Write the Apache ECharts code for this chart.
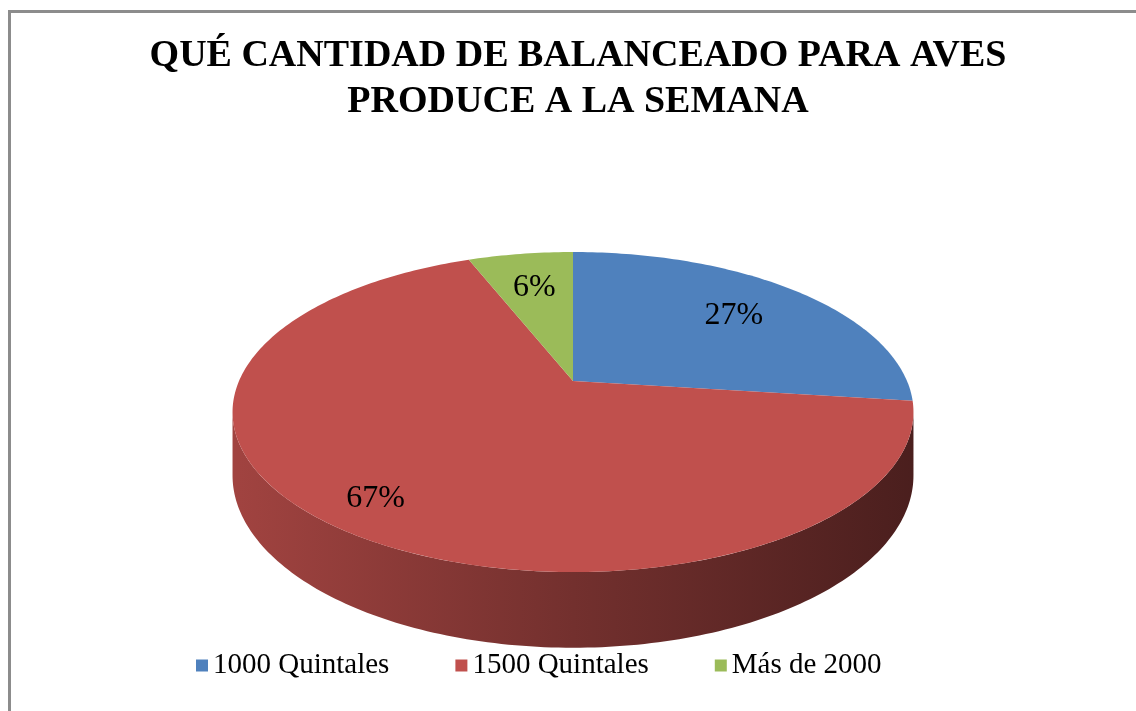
<!DOCTYPE html>
<html>
<head>
<meta charset="utf-8">
<script src="https://cdn.jsdelivr.net/npm/echarts@6/dist/echarts.min.js"></script>
<style>
  html, body { margin: 0; padding: 0; background: #fff; }
  #main { width: 1136px; height: 711px; }
</style>
</head>
<body>
<div id="main"></div>
<script>
var categories = ['1000 Quintales', '1500 Quintales', 'Más de 2000'];
var percentValues = [27, 67, 6];
var percentLabels = ['27%', '67%', '6%'];

var sliceColors = ['#4F81BD', '#C0504D', '#9BBB59'];
var labelRadius = [0.7, 0.84, 0.7];

// perspective of the disc (pixels)
var CX = 573, CY = 381;   // apex of the slices
var AX = 334, BY = 154;   // horizontal / vertical radius factors
var K = -0.194;           // perspective strength
var DEPTH = 61;           // thickness of the disc

var total = percentValues.reduce(function (a, b) { return a + b; }, 0);
var startAngles = [];
var acc = 0;
percentValues.forEach(function (v) { startAngles.push(acc); acc += v / total * 360; });

function proj(u, v, drop) {
    var w = 1 + K * v;
    return [CX + AX * u / w, CY + BY * v / w + (drop || 0) / w];
}
function rimPoint(deg, r, drop) {
    var a = deg * Math.PI / 180;
    return proj(r * Math.sin(a), -r * Math.cos(a), drop);
}
// darker shade of a hex colour, f = fraction kept
function shade(hex, f) {
    var c = echarts.color.parse(hex);
    return 'rgb(' + Math.round(c[0] * f) + ',' + Math.round(c[1] * f) + ',' + Math.round(c[2] * f) + ')';
}

// front part of the rim that faces the viewer
var frontFrom = 180 - Math.acos(-K) * 180 / Math.PI;
var frontTo = 360 - frontFrom;

function renderSlice(params, api) {
    var i = params.seriesIndex;
    var a0 = startAngles[i];
    var a1 = a0 + percentValues[i] / total * 360;
    var color = sliceColors[i];
    var children = [];

    // side wall
    var w0 = Math.max(a0, frontFrom), w1 = Math.min(a1, frontTo);
    if (w1 > w0) {
        var top = [], bottom = [];
        var steps = Math.max(2, Math.ceil(w1 - w0));
        for (var s = 0; s <= steps; s++) {
            var d = w0 + (w1 - w0) * s / steps;
            top.push(rimPoint(d, 1, 0));
            bottom.push(rimPoint(d, 1, DEPTH));
        }
        var left = proj(-1.02, 0.19)[0], right = proj(1.02, 0.19)[0];
        children.push({
            type: 'polygon',
            shape: { points: top.concat(bottom.reverse()) },
            style: {
                fill: new echarts.graphic.LinearGradient(left, 0, right, 0, [
                    { offset: 0, color: shade(color, 0.85) },
                    { offset: 0.5, color: shade(color, 0.6) },
                    { offset: 1, color: shade(color, 0.38) }
                ], true)
            }
        });
    }

    // top face
    var pts = [[CX, CY]];
    var n = Math.max(2, Math.ceil(a1 - a0));
    for (var k = 0; k <= n; k++) {
        pts.push(rimPoint(a0 + (a1 - a0) * k / n, 1, 0));
    }
    children.push({ type: 'polygon', shape: { points: pts }, style: { fill: color } });

    // label
    var lp = rimPoint((a0 + a1) / 2, labelRadius[i], 0);
    children.push({
        type: 'text',
        x: lp[0], y: lp[1],
        style: {
            text: percentLabels[i],
            fill: '#000',
            fontFamily: 'Liberation Serif',
            fontSize: 32,
            align: 'center',
            verticalAlign: 'middle'
        }
    });
    return { type: 'group', children: children };
}

var chart = echarts.init(document.getElementById('main'));

var option = {
    animation: false,
    backgroundColor: '#fff',
    title: {
        text: 'QUÉ CANTIDAD DE BALANCEADO PARA AVES\nPRODUCE A LA SEMANA',
        left: 573,
        top: 28,
        textAlign: 'center',
        textStyle: {
            fontFamily: 'Liberation Serif',
            fontWeight: 'bold',
            fontSize: 38,
            lineHeight: 46,
            color: '#000'
        }
    },
    legend: {
        data: categories,
        left: 191,
        top: 646,
        icon: 'rect',
        itemWidth: 12,
        itemHeight: 12,
        itemGap: 66,
        textStyle: {
            fontFamily: 'Liberation Serif',
            fontSize: 29,
            color: '#000'
        }
    },
    graphic: [{
        type: 'rect',
        shape: { x: 9.5, y: 11.5, width: 1200, height: 800 },
        style: { fill: null, stroke: '#8c8c8c', lineWidth: 3 },
        silent: true
    }],
    series: categories.map(function (name, i) {
        return {
            name: name,
            type: 'custom',
            coordinateSystem: 'none',
            itemStyle: { color: sliceColors[i] },
            renderItem: renderSlice,
            data: [[i]]
        };
    })
};

chart.setOption(option);
</script>
</body>
</html>
